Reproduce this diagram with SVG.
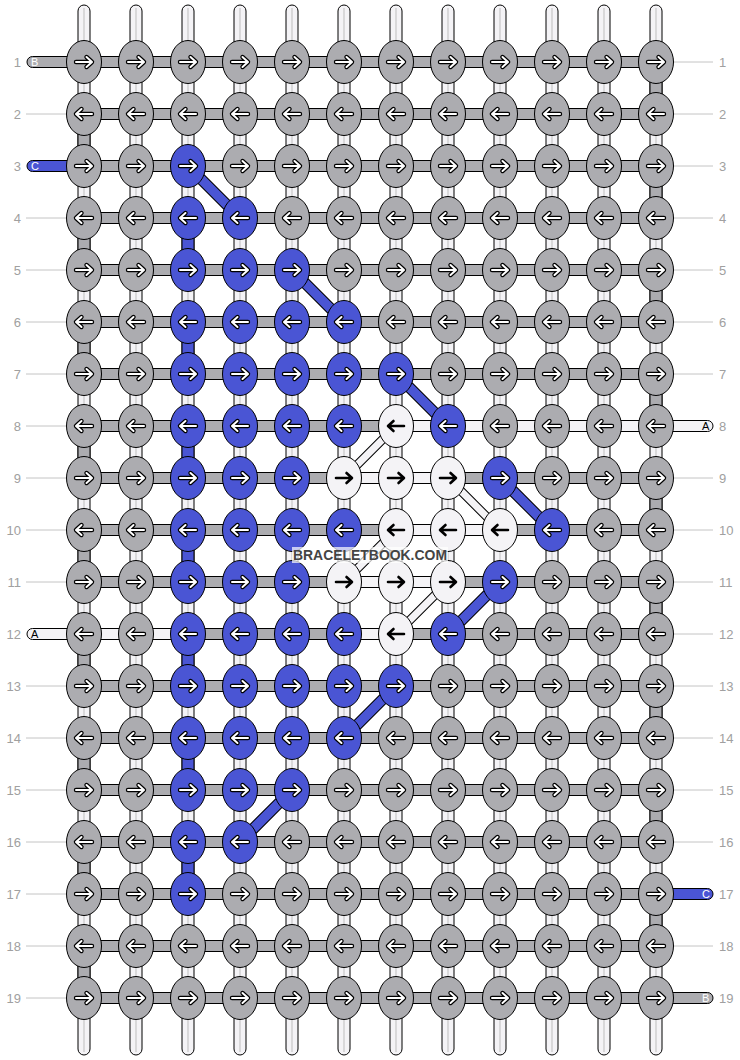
<svg xmlns="http://www.w3.org/2000/svg" xmlns:xlink="http://www.w3.org/1999/xlink" width="740" height="1060" viewBox="0 0 740 1060">
<style>
.g{fill:#acacb0}.b{fill:#4a55d4}.w{fill:#f4f3f6}
.s{stroke:#000;stroke-width:1}
.cl{stroke:#bdbdbd;stroke-width:1}
.tl{stroke:#c4c4c4;stroke-width:1}
.lb{font-family:"Liberation Sans",Arial,sans-serif;font-size:13px;fill:#a0a0a0}
.el{font-family:"Liberation Sans",Arial,sans-serif;font-size:11px}
</style>
<defs>
<ellipse id="E" rx="17.5" ry="21.5" stroke="#000" stroke-width="1"/>
<path id="aR" d="M-8,0H7M2.5,-5L8,0L2.5,5" fill="none" stroke-linecap="round" stroke-linejoin="round"/>
<path id="aL" d="M8,0H-7M-2.5,-5L-8,0L-2.5,5" fill="none" stroke-linecap="round" stroke-linejoin="round"/>
<g id="oR"><use href="#aR" stroke="#000" stroke-width="4.4"/><use href="#aR" stroke="#fff" stroke-width="2"/></g>
<g id="oL"><use href="#aL" stroke="#000" stroke-width="4.4"/><use href="#aL" stroke="#fff" stroke-width="2"/></g>
<g id="gR"><use href="#E" class="g"/><use href="#oR"/></g>
<g id="gL"><use href="#E" class="g"/><use href="#oL"/></g>
<g id="bR"><use href="#E" class="b"/><use href="#oR"/></g>
<g id="bL"><use href="#E" class="b"/><use href="#oL"/></g>
<g id="wR"><use href="#E" class="w"/><use href="#aR" stroke="#000" stroke-width="2.6"/></g>
<g id="wL"><use href="#E" class="w"/><use href="#aL" stroke="#000" stroke-width="2.6"/></g>
</defs>
<rect width="740" height="1060" fill="#fff"/>
<g id="labels">
<text class="lb" text-anchor="end" x="21" y="67">1</text><text class="lb" x="719" y="67">1</text>
<text class="lb" text-anchor="end" x="21" y="119">2</text><text class="lb" x="719" y="119">2</text>
<text class="lb" text-anchor="end" x="21" y="171">3</text><text class="lb" x="719" y="171">3</text>
<text class="lb" text-anchor="end" x="21" y="223">4</text><text class="lb" x="719" y="223">4</text>
<text class="lb" text-anchor="end" x="21" y="275">5</text><text class="lb" x="719" y="275">5</text>
<text class="lb" text-anchor="end" x="21" y="327">6</text><text class="lb" x="719" y="327">6</text>
<text class="lb" text-anchor="end" x="21" y="379">7</text><text class="lb" x="719" y="379">7</text>
<text class="lb" text-anchor="end" x="21" y="431">8</text><text class="lb" x="719" y="431">8</text>
<text class="lb" text-anchor="end" x="21" y="483">9</text><text class="lb" x="719" y="483">9</text>
<text class="lb" text-anchor="end" x="21" y="535">10</text><text class="lb" x="719" y="535">10</text>
<text class="lb" text-anchor="end" x="21" y="587">11</text><text class="lb" x="719" y="587">11</text>
<text class="lb" text-anchor="end" x="21" y="639">12</text><text class="lb" x="719" y="639">12</text>
<text class="lb" text-anchor="end" x="21" y="691">13</text><text class="lb" x="719" y="691">13</text>
<text class="lb" text-anchor="end" x="21" y="743">14</text><text class="lb" x="719" y="743">14</text>
<text class="lb" text-anchor="end" x="21" y="795">15</text><text class="lb" x="719" y="795">15</text>
<text class="lb" text-anchor="end" x="21" y="847">16</text><text class="lb" x="719" y="847">16</text>
<text class="lb" text-anchor="end" x="21" y="899">17</text><text class="lb" x="719" y="899">17</text>
<text class="lb" text-anchor="end" x="21" y="951">18</text><text class="lb" x="719" y="951">18</text>
<text class="lb" text-anchor="end" x="21" y="1003">19</text><text class="lb" x="719" y="1003">19</text>
</g>
<g id="connectors">
<g id="leader-lines">
<path class="tl" d="M26,114H66M26,218H66M26,270H66M26,322H66M26,374H66M26,426H66M26,478H66M26,530H66M26,582H66M26,686H66M26,738H66M26,790H66M26,842H66M26,894H66M26,946H66M26,998H66"/>
<path class="tl" d="M674,62H713M674,114H713M674,166H713M674,218H713M674,270H713M674,322H713M674,374H713M674,478H713M674,530H713M674,582H713M674,634H713M674,686H713M674,738H713M674,790H713M674,842H713M674,946H713"/>
</g>
<g id="warp">
<rect class="w s" x="78" y="5" width="12" height="1050" rx="6"/>
<rect class="w s" x="130" y="5" width="12" height="1050" rx="6"/>
<rect class="w s" x="182" y="5" width="12" height="1050" rx="6"/>
<rect class="w s" x="234" y="5" width="12" height="1050" rx="6"/>
<rect class="w s" x="286" y="5" width="12" height="1050" rx="6"/>
<rect class="w s" x="338" y="5" width="12" height="1050" rx="6"/>
<rect class="w s" x="390" y="5" width="12" height="1050" rx="6"/>
<rect class="w s" x="442" y="5" width="12" height="1050" rx="6"/>
<rect class="w s" x="494" y="5" width="12" height="1050" rx="6"/>
<rect class="w s" x="546" y="5" width="12" height="1050" rx="6"/>
<rect class="w s" x="598" y="5" width="12" height="1050" rx="6"/>
<rect class="w s" x="650" y="5" width="12" height="1050" rx="6"/>
<path class="cl" d="M84,8V1052M136,8V1052M188,8V1052M240,8V1052M292,8V1052M344,8V1052M396,8V1052M448,8V1052M500,8V1052M552,8V1052M604,8V1052M656,8V1052"/>
</g>
<g id="vertical-turns">
<rect class="g s" x="78" y="114" width="12" height="52"/>
<rect class="g s" x="78" y="218" width="12" height="52"/>
<rect class="g s" x="78" y="322" width="12" height="52"/>
<rect class="g s" x="78" y="426" width="12" height="52"/>
<rect class="g s" x="78" y="530" width="12" height="52"/>
<rect class="g s" x="78" y="634" width="12" height="52"/>
<rect class="g s" x="78" y="738" width="12" height="52"/>
<rect class="g s" x="78" y="842" width="12" height="52"/>
<rect class="g s" x="78" y="946" width="12" height="52"/>
<rect class="g s" x="650" y="62" width="12" height="52"/>
<rect class="g s" x="650" y="166" width="12" height="52"/>
<rect class="g s" x="650" y="270" width="12" height="52"/>
<rect class="g s" x="650" y="374" width="12" height="52"/>
<rect class="g s" x="650" y="478" width="12" height="52"/>
<rect class="g s" x="650" y="582" width="12" height="52"/>
<rect class="g s" x="650" y="686" width="12" height="52"/>
<rect class="g s" x="650" y="790" width="12" height="52"/>
<rect class="g s" x="650" y="894" width="12" height="52"/>
<rect class="b s" x="182" y="218" width="12" height="52"/>
<rect class="b s" x="182" y="322" width="12" height="52"/>
<rect class="b s" x="182" y="426" width="12" height="52"/>
<rect class="b s" x="182" y="530" width="12" height="52"/>
<rect class="b s" x="182" y="634" width="12" height="52"/>
<rect class="b s" x="182" y="738" width="12" height="52"/>
<rect class="b s" x="182" y="842" width="12" height="52"/>
</g>
<g id="weft">
<rect class="g s" x="84" y="56.5" width="572" height="11"/>
<rect class="g s" x="84" y="108.5" width="572" height="11"/>
<rect class="g s" x="84" y="160.5" width="572" height="11"/>
<rect class="g s" x="84" y="212.5" width="572" height="11"/>
<rect class="g s" x="84" y="264.5" width="572" height="11"/>
<rect class="g s" x="84" y="316.5" width="572" height="11"/>
<rect class="g s" x="84" y="368.5" width="572" height="11"/>
<rect class="g s" x="84" y="420.5" width="572" height="11"/>
<rect class="g s" x="84" y="472.5" width="572" height="11"/>
<rect class="g s" x="84" y="524.5" width="572" height="11"/>
<rect class="g s" x="84" y="576.5" width="572" height="11"/>
<rect class="g s" x="84" y="628.5" width="572" height="11"/>
<rect class="g s" x="84" y="680.5" width="572" height="11"/>
<rect class="g s" x="84" y="732.5" width="572" height="11"/>
<rect class="g s" x="84" y="784.5" width="572" height="11"/>
<rect class="g s" x="84" y="836.5" width="572" height="11"/>
<rect class="g s" x="84" y="888.5" width="572" height="11"/>
<rect class="g s" x="84" y="940.5" width="572" height="11"/>
<rect class="g s" x="84" y="992.5" width="572" height="11"/>
<rect class="w s" x="396" y="420.5" width="260" height="11"/>
<rect class="w s" x="344" y="472.5" width="104" height="11"/>
<rect class="w s" x="396" y="524.5" width="104" height="11"/>
<rect class="w s" x="344" y="576.5" width="104" height="11"/>
<rect class="w s" x="84" y="628.5" width="104" height="11"/>
<rect class="w s" x="344" y="628.5" width="52" height="11"/>
</g>
<g id="string-ends">
<rect class="g s" x="27" y="56.5" width="57" height="11" rx="5.5"/><text class="el" x="31" y="66" fill="#fff">B</text>
<rect class="b s" x="27" y="160.5" width="57" height="11" rx="5.5"/><text class="el" x="31" y="170" fill="#fff">C</text>
<rect class="w s" x="27" y="628.5" width="57" height="11" rx="5.5"/><text class="el" x="31" y="638" fill="#000">A</text>
<rect class="w s" x="656" y="420.5" width="57" height="11" rx="5.5"/><text class="el" x="702" y="430" fill="#000">A</text>
<rect class="b s" x="656" y="888.5" width="57" height="11" rx="5.5"/><text class="el" x="702" y="898" fill="#fff">C</text>
<rect class="g s" x="656" y="992.5" width="57" height="11" rx="5.5"/><text class="el" x="702" y="1002" fill="#fff">B</text>
</g>
<g id="diagonals">
<path stroke="#000" stroke-width="11.5" fill="none" d="M188,166L240,218M292,270L344,322M396,374L448,426M500,478L552,530M500,582L448,634M396,686L344,738M292,790L240,842"/>
<path stroke="#4a55d4" stroke-width="9.5" fill="none" d="M188,166L240,218M292,270L344,322M396,374L448,426M500,478L552,530M500,582L448,634M396,686L344,738M292,790L240,842"/>
<path stroke="#000" stroke-width="9" fill="none" d="M344,478L396,426M448,478L500,530M344,582L396,530M396,634L448,582"/>
<path stroke="#f4f3f6" stroke-width="7" fill="none" d="M344,478L396,426M448,478L500,530M344,582L396,530M396,634L448,582"/>
</g>
</g>
<g id="knots">
<g id="k1-1"><use href="#gR" x="84" y="62"/></g><g id="k1-2"><use href="#gR" x="136" y="62"/></g><g id="k1-3"><use href="#gR" x="188" y="62"/></g><g id="k1-4"><use href="#gR" x="240" y="62"/></g><g id="k1-5"><use href="#gR" x="292" y="62"/></g><g id="k1-6"><use href="#gR" x="344" y="62"/></g><g id="k1-7"><use href="#gR" x="396" y="62"/></g><g id="k1-8"><use href="#gR" x="448" y="62"/></g><g id="k1-9"><use href="#gR" x="500" y="62"/></g><g id="k1-10"><use href="#gR" x="552" y="62"/></g><g id="k1-11"><use href="#gR" x="604" y="62"/></g><g id="k1-12"><use href="#gR" x="656" y="62"/></g>
<g id="k2-1"><use href="#gL" x="84" y="114"/></g><g id="k2-2"><use href="#gL" x="136" y="114"/></g><g id="k2-3"><use href="#gL" x="188" y="114"/></g><g id="k2-4"><use href="#gL" x="240" y="114"/></g><g id="k2-5"><use href="#gL" x="292" y="114"/></g><g id="k2-6"><use href="#gL" x="344" y="114"/></g><g id="k2-7"><use href="#gL" x="396" y="114"/></g><g id="k2-8"><use href="#gL" x="448" y="114"/></g><g id="k2-9"><use href="#gL" x="500" y="114"/></g><g id="k2-10"><use href="#gL" x="552" y="114"/></g><g id="k2-11"><use href="#gL" x="604" y="114"/></g><g id="k2-12"><use href="#gL" x="656" y="114"/></g>
<g id="k3-1"><use href="#gR" x="84" y="166"/></g><g id="k3-2"><use href="#gR" x="136" y="166"/></g><g id="k3-3"><use href="#bR" x="188" y="166"/></g><g id="k3-4"><use href="#gR" x="240" y="166"/></g><g id="k3-5"><use href="#gR" x="292" y="166"/></g><g id="k3-6"><use href="#gR" x="344" y="166"/></g><g id="k3-7"><use href="#gR" x="396" y="166"/></g><g id="k3-8"><use href="#gR" x="448" y="166"/></g><g id="k3-9"><use href="#gR" x="500" y="166"/></g><g id="k3-10"><use href="#gR" x="552" y="166"/></g><g id="k3-11"><use href="#gR" x="604" y="166"/></g><g id="k3-12"><use href="#gR" x="656" y="166"/></g>
<g id="k4-1"><use href="#gL" x="84" y="218"/></g><g id="k4-2"><use href="#gL" x="136" y="218"/></g><g id="k4-3"><use href="#bL" x="188" y="218"/></g><g id="k4-4"><use href="#bL" x="240" y="218"/></g><g id="k4-5"><use href="#gL" x="292" y="218"/></g><g id="k4-6"><use href="#gL" x="344" y="218"/></g><g id="k4-7"><use href="#gL" x="396" y="218"/></g><g id="k4-8"><use href="#gL" x="448" y="218"/></g><g id="k4-9"><use href="#gL" x="500" y="218"/></g><g id="k4-10"><use href="#gL" x="552" y="218"/></g><g id="k4-11"><use href="#gL" x="604" y="218"/></g><g id="k4-12"><use href="#gL" x="656" y="218"/></g>
<g id="k5-1"><use href="#gR" x="84" y="270"/></g><g id="k5-2"><use href="#gR" x="136" y="270"/></g><g id="k5-3"><use href="#bR" x="188" y="270"/></g><g id="k5-4"><use href="#bR" x="240" y="270"/></g><g id="k5-5"><use href="#bR" x="292" y="270"/></g><g id="k5-6"><use href="#gR" x="344" y="270"/></g><g id="k5-7"><use href="#gR" x="396" y="270"/></g><g id="k5-8"><use href="#gR" x="448" y="270"/></g><g id="k5-9"><use href="#gR" x="500" y="270"/></g><g id="k5-10"><use href="#gR" x="552" y="270"/></g><g id="k5-11"><use href="#gR" x="604" y="270"/></g><g id="k5-12"><use href="#gR" x="656" y="270"/></g>
<g id="k6-1"><use href="#gL" x="84" y="322"/></g><g id="k6-2"><use href="#gL" x="136" y="322"/></g><g id="k6-3"><use href="#bL" x="188" y="322"/></g><g id="k6-4"><use href="#bL" x="240" y="322"/></g><g id="k6-5"><use href="#bL" x="292" y="322"/></g><g id="k6-6"><use href="#bL" x="344" y="322"/></g><g id="k6-7"><use href="#gL" x="396" y="322"/></g><g id="k6-8"><use href="#gL" x="448" y="322"/></g><g id="k6-9"><use href="#gL" x="500" y="322"/></g><g id="k6-10"><use href="#gL" x="552" y="322"/></g><g id="k6-11"><use href="#gL" x="604" y="322"/></g><g id="k6-12"><use href="#gL" x="656" y="322"/></g>
<g id="k7-1"><use href="#gR" x="84" y="374"/></g><g id="k7-2"><use href="#gR" x="136" y="374"/></g><g id="k7-3"><use href="#bR" x="188" y="374"/></g><g id="k7-4"><use href="#bR" x="240" y="374"/></g><g id="k7-5"><use href="#bR" x="292" y="374"/></g><g id="k7-6"><use href="#bR" x="344" y="374"/></g><g id="k7-7"><use href="#bR" x="396" y="374"/></g><g id="k7-8"><use href="#gR" x="448" y="374"/></g><g id="k7-9"><use href="#gR" x="500" y="374"/></g><g id="k7-10"><use href="#gR" x="552" y="374"/></g><g id="k7-11"><use href="#gR" x="604" y="374"/></g><g id="k7-12"><use href="#gR" x="656" y="374"/></g>
<g id="k8-1"><use href="#gL" x="84" y="426"/></g><g id="k8-2"><use href="#gL" x="136" y="426"/></g><g id="k8-3"><use href="#bL" x="188" y="426"/></g><g id="k8-4"><use href="#bL" x="240" y="426"/></g><g id="k8-5"><use href="#bL" x="292" y="426"/></g><g id="k8-6"><use href="#bL" x="344" y="426"/></g><g id="k8-7"><use href="#wL" x="396" y="426"/></g><g id="k8-8"><use href="#bL" x="448" y="426"/></g><g id="k8-9"><use href="#gL" x="500" y="426"/></g><g id="k8-10"><use href="#gL" x="552" y="426"/></g><g id="k8-11"><use href="#gL" x="604" y="426"/></g><g id="k8-12"><use href="#gL" x="656" y="426"/></g>
<g id="k9-1"><use href="#gR" x="84" y="478"/></g><g id="k9-2"><use href="#gR" x="136" y="478"/></g><g id="k9-3"><use href="#bR" x="188" y="478"/></g><g id="k9-4"><use href="#bR" x="240" y="478"/></g><g id="k9-5"><use href="#bR" x="292" y="478"/></g><g id="k9-6"><use href="#wR" x="344" y="478"/></g><g id="k9-7"><use href="#wR" x="396" y="478"/></g><g id="k9-8"><use href="#wR" x="448" y="478"/></g><g id="k9-9"><use href="#bR" x="500" y="478"/></g><g id="k9-10"><use href="#gR" x="552" y="478"/></g><g id="k9-11"><use href="#gR" x="604" y="478"/></g><g id="k9-12"><use href="#gR" x="656" y="478"/></g>
<g id="k10-1"><use href="#gL" x="84" y="530"/></g><g id="k10-2"><use href="#gL" x="136" y="530"/></g><g id="k10-3"><use href="#bL" x="188" y="530"/></g><g id="k10-4"><use href="#bL" x="240" y="530"/></g><g id="k10-5"><use href="#bL" x="292" y="530"/></g><g id="k10-6"><use href="#bL" x="344" y="530"/></g><g id="k10-7"><use href="#wL" x="396" y="530"/></g><g id="k10-8"><use href="#wL" x="448" y="530"/></g><g id="k10-9"><use href="#wL" x="500" y="530"/></g><g id="k10-10"><use href="#bL" x="552" y="530"/></g><g id="k10-11"><use href="#gL" x="604" y="530"/></g><g id="k10-12"><use href="#gL" x="656" y="530"/></g>
<g id="k11-1"><use href="#gR" x="84" y="582"/></g><g id="k11-2"><use href="#gR" x="136" y="582"/></g><g id="k11-3"><use href="#bR" x="188" y="582"/></g><g id="k11-4"><use href="#bR" x="240" y="582"/></g><g id="k11-5"><use href="#bR" x="292" y="582"/></g><g id="k11-6"><use href="#wR" x="344" y="582"/></g><g id="k11-7"><use href="#wR" x="396" y="582"/></g><g id="k11-8"><use href="#wR" x="448" y="582"/></g><g id="k11-9"><use href="#bR" x="500" y="582"/></g><g id="k11-10"><use href="#gR" x="552" y="582"/></g><g id="k11-11"><use href="#gR" x="604" y="582"/></g><g id="k11-12"><use href="#gR" x="656" y="582"/></g>
<g id="k12-1"><use href="#gL" x="84" y="634"/></g><g id="k12-2"><use href="#gL" x="136" y="634"/></g><g id="k12-3"><use href="#bL" x="188" y="634"/></g><g id="k12-4"><use href="#bL" x="240" y="634"/></g><g id="k12-5"><use href="#bL" x="292" y="634"/></g><g id="k12-6"><use href="#bL" x="344" y="634"/></g><g id="k12-7"><use href="#wL" x="396" y="634"/></g><g id="k12-8"><use href="#bL" x="448" y="634"/></g><g id="k12-9"><use href="#gL" x="500" y="634"/></g><g id="k12-10"><use href="#gL" x="552" y="634"/></g><g id="k12-11"><use href="#gL" x="604" y="634"/></g><g id="k12-12"><use href="#gL" x="656" y="634"/></g>
<g id="k13-1"><use href="#gR" x="84" y="686"/></g><g id="k13-2"><use href="#gR" x="136" y="686"/></g><g id="k13-3"><use href="#bR" x="188" y="686"/></g><g id="k13-4"><use href="#bR" x="240" y="686"/></g><g id="k13-5"><use href="#bR" x="292" y="686"/></g><g id="k13-6"><use href="#bR" x="344" y="686"/></g><g id="k13-7"><use href="#bR" x="396" y="686"/></g><g id="k13-8"><use href="#gR" x="448" y="686"/></g><g id="k13-9"><use href="#gR" x="500" y="686"/></g><g id="k13-10"><use href="#gR" x="552" y="686"/></g><g id="k13-11"><use href="#gR" x="604" y="686"/></g><g id="k13-12"><use href="#gR" x="656" y="686"/></g>
<g id="k14-1"><use href="#gL" x="84" y="738"/></g><g id="k14-2"><use href="#gL" x="136" y="738"/></g><g id="k14-3"><use href="#bL" x="188" y="738"/></g><g id="k14-4"><use href="#bL" x="240" y="738"/></g><g id="k14-5"><use href="#bL" x="292" y="738"/></g><g id="k14-6"><use href="#bL" x="344" y="738"/></g><g id="k14-7"><use href="#gL" x="396" y="738"/></g><g id="k14-8"><use href="#gL" x="448" y="738"/></g><g id="k14-9"><use href="#gL" x="500" y="738"/></g><g id="k14-10"><use href="#gL" x="552" y="738"/></g><g id="k14-11"><use href="#gL" x="604" y="738"/></g><g id="k14-12"><use href="#gL" x="656" y="738"/></g>
<g id="k15-1"><use href="#gR" x="84" y="790"/></g><g id="k15-2"><use href="#gR" x="136" y="790"/></g><g id="k15-3"><use href="#bR" x="188" y="790"/></g><g id="k15-4"><use href="#bR" x="240" y="790"/></g><g id="k15-5"><use href="#bR" x="292" y="790"/></g><g id="k15-6"><use href="#gR" x="344" y="790"/></g><g id="k15-7"><use href="#gR" x="396" y="790"/></g><g id="k15-8"><use href="#gR" x="448" y="790"/></g><g id="k15-9"><use href="#gR" x="500" y="790"/></g><g id="k15-10"><use href="#gR" x="552" y="790"/></g><g id="k15-11"><use href="#gR" x="604" y="790"/></g><g id="k15-12"><use href="#gR" x="656" y="790"/></g>
<g id="k16-1"><use href="#gL" x="84" y="842"/></g><g id="k16-2"><use href="#gL" x="136" y="842"/></g><g id="k16-3"><use href="#bL" x="188" y="842"/></g><g id="k16-4"><use href="#bL" x="240" y="842"/></g><g id="k16-5"><use href="#gL" x="292" y="842"/></g><g id="k16-6"><use href="#gL" x="344" y="842"/></g><g id="k16-7"><use href="#gL" x="396" y="842"/></g><g id="k16-8"><use href="#gL" x="448" y="842"/></g><g id="k16-9"><use href="#gL" x="500" y="842"/></g><g id="k16-10"><use href="#gL" x="552" y="842"/></g><g id="k16-11"><use href="#gL" x="604" y="842"/></g><g id="k16-12"><use href="#gL" x="656" y="842"/></g>
<g id="k17-1"><use href="#gR" x="84" y="894"/></g><g id="k17-2"><use href="#gR" x="136" y="894"/></g><g id="k17-3"><use href="#bR" x="188" y="894"/></g><g id="k17-4"><use href="#gR" x="240" y="894"/></g><g id="k17-5"><use href="#gR" x="292" y="894"/></g><g id="k17-6"><use href="#gR" x="344" y="894"/></g><g id="k17-7"><use href="#gR" x="396" y="894"/></g><g id="k17-8"><use href="#gR" x="448" y="894"/></g><g id="k17-9"><use href="#gR" x="500" y="894"/></g><g id="k17-10"><use href="#gR" x="552" y="894"/></g><g id="k17-11"><use href="#gR" x="604" y="894"/></g><g id="k17-12"><use href="#gR" x="656" y="894"/></g>
<g id="k18-1"><use href="#gL" x="84" y="946"/></g><g id="k18-2"><use href="#gL" x="136" y="946"/></g><g id="k18-3"><use href="#gL" x="188" y="946"/></g><g id="k18-4"><use href="#gL" x="240" y="946"/></g><g id="k18-5"><use href="#gL" x="292" y="946"/></g><g id="k18-6"><use href="#gL" x="344" y="946"/></g><g id="k18-7"><use href="#gL" x="396" y="946"/></g><g id="k18-8"><use href="#gL" x="448" y="946"/></g><g id="k18-9"><use href="#gL" x="500" y="946"/></g><g id="k18-10"><use href="#gL" x="552" y="946"/></g><g id="k18-11"><use href="#gL" x="604" y="946"/></g><g id="k18-12"><use href="#gL" x="656" y="946"/></g>
<g id="k19-1"><use href="#gR" x="84" y="998"/></g><g id="k19-2"><use href="#gR" x="136" y="998"/></g><g id="k19-3"><use href="#gR" x="188" y="998"/></g><g id="k19-4"><use href="#gR" x="240" y="998"/></g><g id="k19-5"><use href="#gR" x="292" y="998"/></g><g id="k19-6"><use href="#gR" x="344" y="998"/></g><g id="k19-7"><use href="#gR" x="396" y="998"/></g><g id="k19-8"><use href="#gR" x="448" y="998"/></g><g id="k19-9"><use href="#gR" x="500" y="998"/></g><g id="k19-10"><use href="#gR" x="552" y="998"/></g><g id="k19-11"><use href="#gR" x="604" y="998"/></g><g id="k19-12"><use href="#gR" x="656" y="998"/></g>
</g>
<g id="watermark">
<rect x="292" y="547" width="156" height="16" fill="#fff" fill-opacity="0.7"/>
<text x="370" y="560" text-anchor="middle" font-family="'Liberation Sans',Arial,sans-serif" font-weight="bold" font-size="14" fill="#444" textLength="154" lengthAdjust="spacingAndGlyphs">BRACELETBOOK.COM</text>
</g>
</svg>
